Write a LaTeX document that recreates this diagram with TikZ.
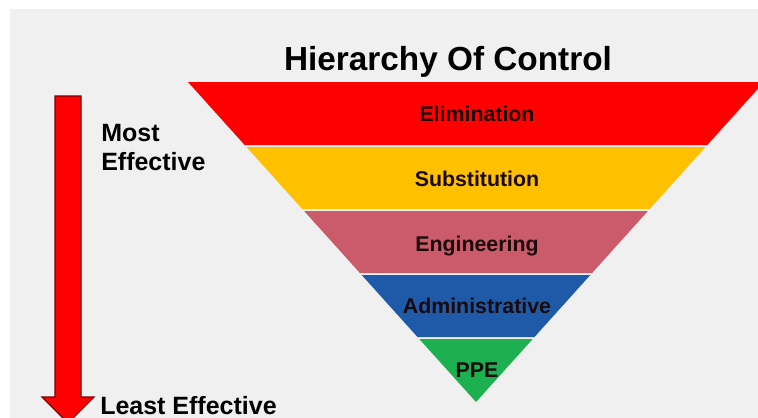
\documentclass[tikz,border=0pt]{standalone}
\usepackage{fontspec}
\setmainfont{Liberation Sans}
\definecolor{bggray}{HTML}{F0F0F0}
\definecolor{bred}{HTML}{FF0000}
\definecolor{byellow}{HTML}{FFC000}
\definecolor{bpink}{HTML}{CB5A6A}
\definecolor{bblue}{HTML}{1F5AA9}
\definecolor{bgreen}{HTML}{1DB050}
\definecolor{txtdark}{HTML}{1A0A0A}
\definecolor{arrowedge}{HTML}{7A0000}
\begin{document}
\begin{tikzpicture}[x=0.75pt,y=-0.75pt,
  bandtext/.style={anchor=base,inner sep=0pt,text=txtdark,font=\bfseries\fontsize{16}{19}\selectfont},
  sidetext/.style={anchor=base west,inner sep=0pt,text=black,font=\bfseries\fontsize{18.75}{22}\selectfont},
  band/.style={draw=none}]
\useasboundingbox (0,0) rectangle (758,418);
\clip (0,0) rectangle (758,418);
\fill[white] (0,0) rectangle (758,418);
\fill[bggray] (10,9) rectangle (758,418);
% title
\node[anchor=base,inner sep=0pt,font=\bfseries\fontsize{25}{30}\selectfont] (title) at (448,70) {Hierarchy Of Control};
% bands
\fill[bred]    (188,82) -- (764,82) -- (707.3,145) -- (244.7,145) -- cycle;
\fill[byellow] (246.5,147) -- (705.5,147) -- (649.7,209) -- (302.3,209) -- cycle;
\fill[bpink]   (304.1,211) -- (647.9,211) -- (592.1,273) -- (359.9,273) -- cycle;
\fill[bblue]   (361.7,275) -- (590.3,275) -- (534.5,337) -- (417.5,337) -- cycle;
\fill[bgreen]  (419.3,339) -- (532.7,339) -- (476,402) -- cycle;
\node[bandtext] (elim) at (477,121) {Elimination};
\node[bandtext] (subs) at (477,186) {Substitution};
\node[bandtext] (engi) at (477,251) {Engineering};
\node[bandtext] (admi) at (477,313.5) {Administrative};
\node[bandtext] (ppe)  at (477,377) {PPE};
% arrow
\filldraw[fill=bred,draw=arrowedge,line width=0.8pt,line join=miter]
  (55,96) -- (81,96) -- (81,397) -- (94,397) -- (68,423) -- (42,397) -- (55,397) -- cycle;
% side labels
\node[sidetext] (most) at (101,141.7) {Most};
\node[sidetext] (mosteff) at (101,170.7) {Effective};
\node[sidetext] (least) at (100,414) {Least Effective};
\end{tikzpicture}
\end{document}
